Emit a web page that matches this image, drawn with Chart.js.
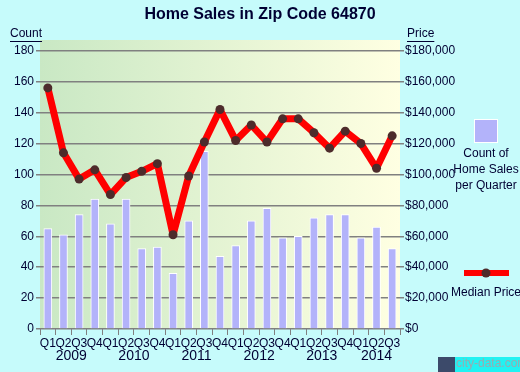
<!DOCTYPE html>
<html>
<head>
<meta charset="utf-8">
<script src="https://cdn.jsdelivr.net/npm/chart.js@4"></script>
<style>
  body { margin: 0; background: #c6fbfb; }
  canvas { display: block; }
</style>
</head>
<body>
<canvas id="sales" width="520" height="372"></canvas>
<script>
const quarters = ["Q1","Q2","Q3","Q4","Q1","Q2","Q3","Q4","Q1","Q2","Q3","Q4",
  "Q1","Q2","Q3","Q4","Q1","Q2","Q3","Q4","Q1","Q2","Q3"];
const years = ["2009","2010","2011","2012","2013","2014"];
const salesCount = [65,61,74,84,68,84,52,53,36,70,115,47,54,70,78,59,60,72,74,74,59,66,52];
const medianPrice = [156000,114000,97000,103000,87000,98000,102000,107000,61000,99000,121000,142000,
  122000,132000,121000,136000,136000,127000,117000,128000,120000,104000,125000];
const countTicks = [0,20,40,60,80,100,120,140,160,180];
const priceTicks = [0,20000,40000,60000,80000,100000,120000,140000,160000,180000];

const ink = "#000033";
const gridGray = "#808080";

const decor = {
  id: "decor",
  beforeDraw(chart) {
    const { ctx, chartArea: a } = chart;
    ctx.save();
    ctx.fillStyle = "#c6fbfb";
    ctx.fillRect(0, 0, chart.width, chart.height);
    const g = ctx.createLinearGradient(a.left, 0, a.right, 0);
    g.addColorStop(0, "#c9e8c4");
    g.addColorStop(1, "#ffffe2");
    ctx.fillStyle = g;
    ctx.fillRect(a.left, a.top, a.right - a.left, a.bottom - a.top);
    ctx.restore();
  },
  afterDraw(chart) {
    const { ctx } = chart;
    const x = chart.scales.x;
    ctx.save();
    ctx.fillStyle = ink;
    ctx.textAlign = "center";
    ctx.textBaseline = "middle";
    ctx.font = "bold 16px 'Liberation Sans', Arial, sans-serif";
    ctx.fillText("Home Sales in Zip Code 64870", 260, 15);

    // axis captions
    ctx.font = "12px 'Liberation Sans', Arial, sans-serif";
    ctx.textAlign = "left";
    ctx.fillText("Count", 10, 34);
    ctx.fillText("Price", 407, 34);
    ctx.strokeStyle = ink;
    ctx.lineWidth = 1;
    ctx.beginPath();
    ctx.moveTo(10, 41.5); ctx.lineTo(10 + ctx.measureText("Count").width, 41.5);
    ctx.moveTo(407, 41.5); ctx.lineTo(407 + ctx.measureText("Price").width, 41.5);
    ctx.stroke();

    // year labels under their quarters
    ctx.font = "14px 'Liberation Sans', Arial, sans-serif";
    ctx.textAlign = "center";
    years.forEach((yr, i) => {
      const first = i * 4;
      const last = Math.min(first + 3, quarters.length - 1);
      const cx = (x.getPixelForValue(first) + x.getPixelForValue(last)) / 2;
      ctx.fillText(yr, cx, 356);
    });

    // legend
    ctx.fillStyle = "#b3b3fa";
    ctx.fillRect(474, 119, 24, 24);
    ctx.strokeStyle = "#ffffff";
    ctx.lineWidth = 1;
    ctx.strokeRect(474.5, 119.5, 23, 23);
    ctx.fillStyle = ink;
    ctx.font = "12px 'Liberation Sans', Arial, sans-serif";
    ctx.fillText("Count of", 486, 154);
    ctx.fillText("Home Sales", 486, 170);
    ctx.fillText("per Quarter", 486, 186);
    ctx.fillStyle = "#ff0000";
    ctx.fillRect(464, 270, 45, 6);
    ctx.fillStyle = "#4d2b2b";
    ctx.beginPath();
    ctx.arc(486, 273, 4.5, 0, Math.PI * 2);
    ctx.fill();
    ctx.fillStyle = ink;
    ctx.fillText("Median Price", 486, 293);

    // watermark
    ctx.fillStyle = "#3c4a6a";
    ctx.fillRect(438, 357, 17, 15);
    ctx.fillStyle = "#22f2f2";
    ctx.fillRect(455, 357, 65, 15);
    ctx.fillStyle = "#9aaab0";
    ctx.font = "12px 'Liberation Sans', Arial, sans-serif";
    ctx.textAlign = "left";
    ctx.fillText("city-data.com", 456, 364);
    ctx.restore();
  }
};

const font12 = { family: "'Liberation Sans', Arial, sans-serif", size: 12 };

new Chart(document.getElementById("sales").getContext("2d"), {
  data: {
    labels: quarters,
    datasets: [
      {
        type: "line",
        label: "Median Price",
        data: medianPrice,
        yAxisID: "y1",
        borderColor: "#ff0000",
        borderWidth: 7,
        borderJoinStyle: "round",
        borderCapStyle: "round",
        pointRadius: 4.5,
        pointBackgroundColor: "#4d2b2b",
        pointBorderWidth: 0,
        tension: 0,
        order: 0
      },
      {
        type: "bar",
        label: "Count of Home Sales per Quarter",
        data: salesCount,
        yAxisID: "y",
        backgroundColor: "#b3b3fa",
        borderColor: "#ffffff",
        borderWidth: 1,
        barThickness: 8,
        order: 1
      }
    ]
  },
  options: {
    responsive: false,
    animation: false,
    layout: { padding: { top: 40, left: 0, right: 0, bottom: 0 } },
    plugins: { legend: { display: false }, tooltip: { enabled: false } },
    scales: {
      x: {
        offset: true,
        afterFit(s) { s.height = 43; },
        grid: { offset: true, drawOnChartArea: false, color: gridGray, tickLength: 6, lineWidth: 1 },
        border: { display: false },
        ticks: { color: ink, font: font12, padding: 1, maxRotation: 0, autoSkip: false }
      },
      y: {
        position: "left",
        bounds: "data",
        min: 0,
        max: 187,
        afterFit(s) { s.width = 40; },
        afterBuildTicks(s) { s.ticks = countTicks.map(v => ({ value: v })); },
        grid: { color: gridGray, lineWidth: 1.5, tickLength: 4 },
        border: { display: false },
        ticks: { autoSkip: false, color: ink, font: font12, padding: 2 }
      },
      y1: {
        position: "right",
        bounds: "data",
        min: 0,
        max: 187000,
        afterFit(s) { s.width = 120; },
        afterBuildTicks(s) { s.ticks = priceTicks.map(v => ({ value: v })); },
        grid: { drawOnChartArea: false, color: gridGray, lineWidth: 1.5, tickLength: 4 },
        border: { display: false },
        ticks: {
          autoSkip: false, color: ink, font: font12, padding: 1,
          callback: v => "$" + v.toLocaleString("en-US")
        }
      }
    }
  },
  plugins: [decor]
});
</script>
</body>
</html>
